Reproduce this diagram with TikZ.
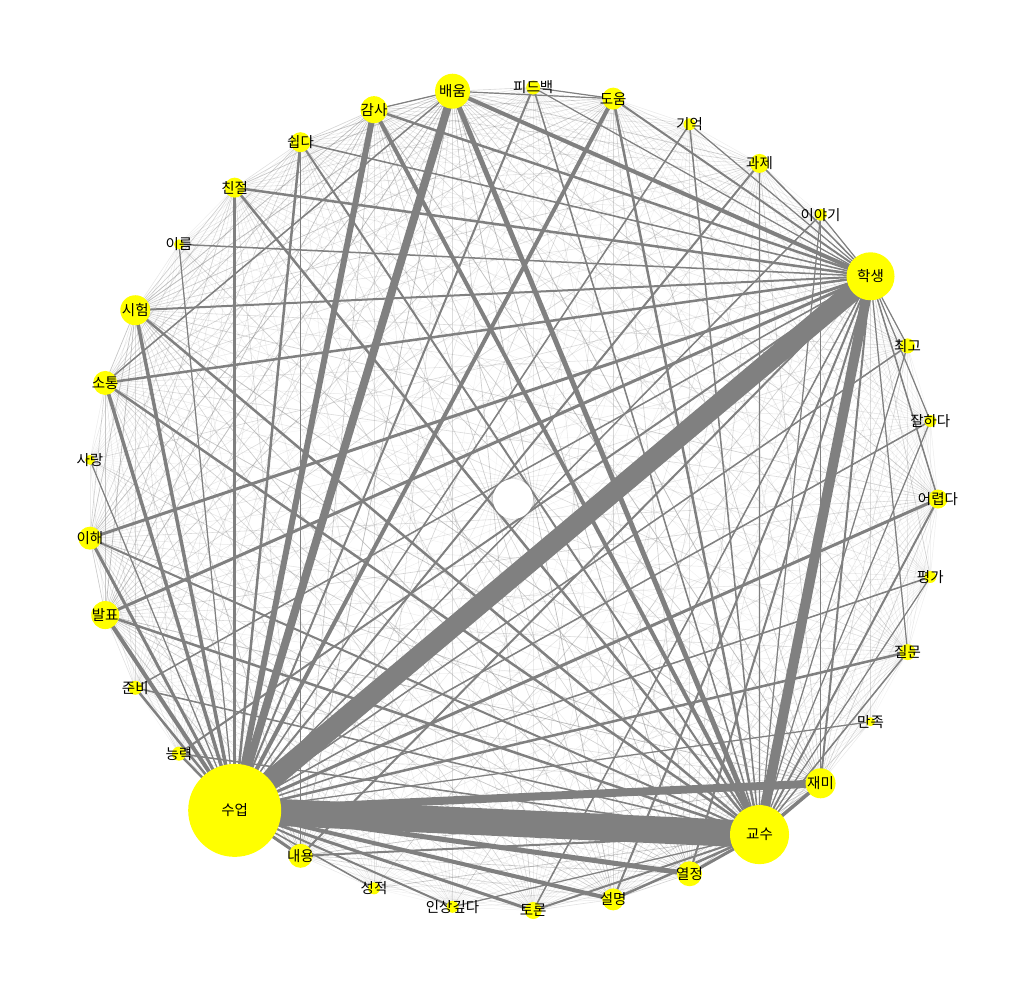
\documentclass[tikz,border=0pt]{standalone}
\usepackage{fontspec}
\newfontfamily\kr{Noto Sans CJK KR}
\definecolor{edgegray}{HTML}{808080}
\definecolor{nodeyellow}{HTML}{FFFF00}
\pgfdeclarelayer{edges}
\pgfsetlayers{edges,main}
\def\R{{9.5,6,7.5,24,6,9.5,6,11,7,17.5,13.5,10,10,5,15,12,5,11.5,14,7,7,46.5,12,6,6,8.5,11,12.5,29.5,15,4.5,8,6}}
\begin{document}
\begin{tikzpicture}[x=1pt,y=-1pt,
  nd/.style={circle,fill=nodeyellow,inner sep=0pt,outer sep=0pt,draw=none},
  lab/.style={inner sep=0pt,font=\kr\fontsize{14.5}{16}\selectfont,text=black},
  edge/.style={draw=edgegray,line cap=butt}]
\useasboundingbox (0,0) rectangle (1029,999);
\foreach \i/\lab/\rad in {0/어렵다/9.5,1/잘하다/6,2/최고/7.5,3/학생/24,4/이야기/6,5/과제/9.5,6/기억/6,7/도움/11,8/피드백/7,9/배움/17.5,10/감사/13.5,11/쉽다/10,12/친절/10,13/이름/5,14/시험/15,15/소통/12,16/사랑/5,17/이해/11.5,18/발표/14,19/준비/7,20/능력/7,21/수업/46.5,22/내용/12,23/성적/6,24/인상깊다/6,25/토론/8.5,26/설명/11,27/열정/12.5,28/교수/29.5,29/재미/15,30/만족/4.5,31/질문/8,32/평가/6}{
  \pgfmathsetmacro\ang{\i*360/33}
  \node[nd,minimum size=2*\rad] (n\i) at ({513+425*cos(\ang)},{499-412*sin(\ang)}) {};
}
\begin{pgfonlayer}{edges}
\fill[white] (0,0) rectangle (1029,999);
\foreach \i in {0,...,31}{
  \pgfmathtruncatemacro\js{\i+1}
  \foreach \j in {\js,...,32}{
    \pgfmathsetmacro\op{max(0.06,min(0.5,\R[\i]*\R[\j]/400))}
    \pgfmathsetmacro\lw{min(1.0,0.4+\R[\i]*\R[\j]/600)}
    \draw[edge,line width=\lw,draw opacity=\op] (n\i.center) -- (n\j.center);
  }
}
\foreach \a/\b/\w in {
  21/28/27,21/3/20,21/29/8,21/9/8,21/10/6,21/27/5,21/7/4,21/26/4,21/18/4,
  21/15/3.5,21/14/3.5,21/17/3,21/12/3,21/11/2.5,21/25/3,21/22/3,21/0/3,
  21/19/2.5,21/20/2.5,21/31/2.5,21/5/2,21/6/1.5,21/4/1.5,21/8/2,21/2/1.5,
  21/1/1.5,21/32/1.5,21/24/2,21/23/1.5,21/13/1.2,21/16/1.2,21/30/1.2,
  28/3/10,28/9/5,28/10/4,28/29/3.5,28/27/3,28/12/2.5,28/15/2.5,28/14/2.5,
  28/17/2,28/18/2.5,28/7/2.5,28/26/2.5,28/11/2,28/22/2,28/25/2,28/0/2,
  28/6/1.5,28/8/1.5,28/5/1.2,28/31/1.5,28/19/1.5,28/20/1.5,28/24/1.2,
  28/2/1.2,28/1/1.2,28/32/1.2,28/4/1.2,
  3/9/4,3/10/2.5,3/12/2.5,3/14/2,3/15/2.5,3/17/3,3/18/3,3/11/1.5,3/13/1.5,
  3/7/2,3/29/2,3/27/2,3/26/2,3/22/2,3/20/2,3/19/1.5,3/0/1.5,3/5/1.5,
  3/25/1.5,3/31/1.2,3/6/1.2,3/4/1.2,3/8/1.2,3/2/1.2,3/1/1.2,
  11/22/1.5,9/15/1.5,4/29/1,9/7/1.2,8/7/1.2,10/9/1.2}{
  \draw[edge,line width=\w] (n\a.center) -- (n\b.center);
}
\end{pgfonlayer}
\node[circle,fill=white,minimum size=40,inner sep=0pt] (ctr) at (513,499) {};
\foreach \i/\lab in {0/어렵다,1/잘하다,2/최고,3/학생,4/이야기,5/과제,6/기억,7/도움,8/피드백,9/배움,10/감사,11/쉽다,12/친절,13/이름,14/시험,15/소통,16/사랑,17/이해,18/발표,19/준비,20/능력,21/수업,22/내용,23/성적,24/인상깊다,25/토론,26/설명,27/열정,28/교수,29/재미,30/만족,31/질문,32/평가}{
  \node[lab] (l\i) at (n\i.center) {\lab};
}
\end{tikzpicture}
\end{document}
